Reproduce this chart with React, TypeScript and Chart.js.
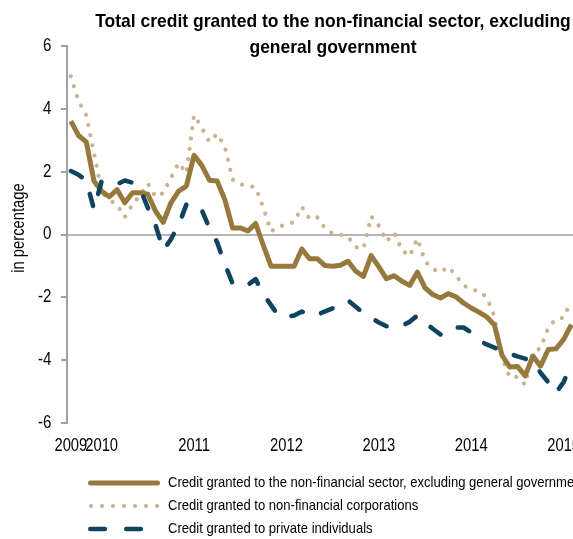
import React, { useEffect, useRef } from "react";
import { Chart, registerables } from "chart.js";

Chart.register(...registerables);

// ---- data ----
const startYear = 2009;
const startMonth = 9; // September 2009
const monthCount = 66; // Sep 2009 .. Feb 2015

const monthLabels: string[] = [];
for (let k = 0; k < monthCount; k++) {
  const m = ((startMonth - 1 + k) % 12) + 1;
  const y = startYear + Math.floor((startMonth - 1 + k) / 12);
  monthLabels.push(`${y}-${String(m).padStart(2, "0")}`);
}

const titleLines = [
  "Total credit granted to the non-financial sector, excluding",
  "general government",
];
const yAxisTitle = "in percentage";

const seriesNames = [
  "Credit granted to the non-financial sector, excluding general government",
  "Credit granted to non-financial corporations",
  "Credit granted to private individuals",
];

const totalCredit = [
  3.61, 3.15, 2.95, 1.7, 1.38, 1.2, 1.43, 1.01, 1.33, 1.33, 1.28, 0.74,
  0.39, 1.01, 1.38, 1.54, 2.52, 2.2, 1.73, 1.7, 1.11, 0.21, 0.21, 0.11,
  0.35, -0.35, -1.01, -1.01, -1.01, -1.01, -0.46, -0.77, -0.77, -0.99, -1.01, -0.98,
  -0.85, -1.17, -1.33, -0.67, -1.03, -1.41, -1.31, -1.49, -1.62, -1.2, -1.7, -1.91,
  -2.02, -1.88, -1.98, -2.18, -2.34, -2.47, -2.62, -2.88, -3.85, -4.22, -4.2, -4.5,
  -3.87, -4.19, -3.66, -3.64, -3.34, -2.87,
];

const corporations = [
  5.04, 4.25, 3.8, 2.6, 1.35, 1.1, 0.95, 0.55, 0.95, 1.25, 1.62, 1.2,
  1.32, 1.8, 2.28, 1.95, 3.8, 3.4, 2.95, 3.2, 2.8, 1.75, 1.6, 1.55,
  1.5, 0.85, 0.1, 0.25, 0.32, 0.4, 0.88, 0.5, 0.55, 0.2, 0.03, 0.0,
  -0.07, -0.4, -0.45, 0.58, 0.28, -0.22, 0.05, -0.5, -0.69, -0.13, -0.85, -1.1,
  -1.2, -1.03, -1.3, -1.62, -1.75, -1.8, -2.0, -2.6, -3.93, -4.55, -4.53, -4.78,
  -3.75, -3.62, -2.97, -2.69, -2.65, -2.1,
];

const privateIndividuals = [
  2.02, 1.9, 1.72, 0.8, 1.7, 1.66, 1.6, 1.72, 1.65, 1.45, 0.85, 0.3,
  -0.5, -0.15, 0.3, 0.95, 0.98, 0.78, 0.2, -0.25, -0.95, -1.55, -1.65, -1.6,
  -1.42, -1.9, -2.25, -2.6, -2.62, -2.58, -2.45, -2.58, -2.55, -2.45, -2.35, -2.2,
  -2.1, -2.3, -2.5, -2.65, -2.8, -2.92, -2.95, -2.9, -2.78, -2.58, -2.8, -3.0,
  -3.18, -2.98, -2.96, -2.96, -3.12, -3.38, -3.5, -3.6, -3.7, -3.8, -3.88, -3.95,
  -4.05, -4.4, -4.7, -5.04, -4.7, -4.1,
];

const yMin = -6;
const yMax = 6;
const yStep = 2;

// ---- styles ----
const FONT = "'Liberation Sans', Arial, sans-serif";
const GOLD = "#98793D";
const TAN = "#C9B390";
const NAVY = "#0E4460";
const AXIS_GRAY = "#A0A0A0";

const CANVAS_W = 700;
const CANVAS_H = 539;

// draw horizontally condensed text (emulates a narrow typeface)
function condensed(
  ctx: CanvasRenderingContext2D,
  text: string,
  x: number,
  y: number,
  font: string,
  sx: number,
  align: CanvasTextAlign,
  baseline: CanvasTextBaseline,
  rotate = 0
) {
  ctx.save();
  ctx.font = font;
  ctx.fillStyle = "#000";
  ctx.textAlign = align;
  ctx.textBaseline = baseline;
  ctx.translate(x, y);
  if (rotate) ctx.rotate(rotate);
  ctx.scale(sx, 1);
  ctx.fillText(text, 0, 0);
  ctx.restore();
}

const overlayPlugin = {
  id: "overlay",
  afterDraw(chart: any) {
    const ctx = chart.ctx as CanvasRenderingContext2D;
    ctx.save();
    // title
    condensed(ctx, titleLines[0], 333, 26.7, `bold 19px ${FONT}`, 0.92, "center", "alphabetic");
    condensed(ctx, titleLines[1], 333, 53.3, `bold 19px ${FONT}`, 0.92, "center", "alphabetic");

    // y axis title
    condensed(ctx, yAxisTitle, 19, 228, `18px ${FONT}`, 0.82, "center", "middle", -Math.PI / 2);

    // y tick labels
    const ys = chart.scales.y;
    ys.ticks.forEach((t: any) => {
      const py = ys.getPixelForValue(t.value);
      condensed(ctx, String(t.value), 51.5, py, `18px ${FONT}`, 0.84, "right", "middle");
    });

    // x tick labels
    const xs = chart.scales.x;
    xs.ticks.forEach((t: any, i: number) => {
      if (t.label === null || t.label === undefined || t.label === "") return;
      const px = xs.getPixelForTick(i);
      condensed(ctx, String(t.label), px, 446.5, `18px ${FONT}`, 0.82, "center", "middle");
    });

    // legend
    const rows = [483, 506, 529];
    const x0 = 88;
    const x1 = 160;
    chart.data.datasets.forEach((ds: any, i: number) => {
      const y = rows[i];
      ctx.save();
      ctx.strokeStyle = ds.borderColor;
      ctx.lineWidth = ds.borderWidth;
      ctx.lineCap = "round";
      if (i === 0) {
        ctx.setLineDash([]);
        ctx.beginPath();
        ctx.moveTo(x0 + 2.5, y);
        ctx.lineTo(x1 - 2.5, y);
        ctx.stroke();
      } else if (i === 1) {
        ctx.setLineDash([0.01, 11]);
        ctx.beginPath();
        ctx.moveTo(x0 + 3, y);
        ctx.lineTo(x1 - 2, y);
        ctx.stroke();
      } else {
        ctx.setLineDash([14.5, 21.5]);
        ctx.beginPath();
        ctx.moveTo(x0 + 2.3, y);
        ctx.lineTo(x1 - 2.3, y);
        ctx.stroke();
      }
      ctx.restore();
      condensed(ctx, ds.label, 168, y, `15px ${FONT}`, 0.87, "left", "middle");
    });
    ctx.restore();
  },
};

export default function App() {
  const ref = useRef<HTMLCanvasElement | null>(null);

  useEffect(() => {
    if (!ref.current) return;
    const chart = new Chart(ref.current, {
      type: "line",
      data: {
        labels: monthLabels,
        datasets: [
          {
            label: seriesNames[0],
            data: totalCredit,
            borderColor: GOLD,
            backgroundColor: GOLD,
            borderWidth: 5,
            borderJoinStyle: "round",
            pointRadius: 0,
            tension: 0,
            order: 2,
          },
          {
            label: seriesNames[1],
            data: corporations,
            borderColor: TAN,
            backgroundColor: TAN,
            borderWidth: 4.2,
            borderDash: [0.01, 10.4],
            borderCapStyle: "round",
            pointRadius: 0,
            tension: 0,
            order: 3,
          },
          {
            label: seriesNames[2],
            data: privateIndividuals,
            borderColor: NAVY,
            backgroundColor: NAVY,
            borderWidth: 4.6,
            borderDash: [12.5, 19.5],
            borderCapStyle: "round",
            borderJoinStyle: "round",
            pointRadius: 0,
            tension: 0,
            order: 1,
          },
        ],
      },
      options: {
        responsive: false,
        maintainAspectRatio: false,
        devicePixelRatio: 1,
        animation: false,
        layout: {
          padding: { top: 46, left: 0, right: CANVAS_W - 575.2, bottom: CANVAS_H - 423 - 40 },
        },
        plugins: {
          legend: { display: false },
          tooltip: { enabled: false },
          title: { display: false },
        },
        scales: {
          x: {
            type: "category",
            offset: true,
            grid: { display: false, drawTicks: false },
            border: { display: false },
            ticks: {
              autoSkip: false,
              maxRotation: 0,
              minRotation: 0,
              padding: 12,
              color: "rgba(0,0,0,0)",
              font: { family: FONT, size: 18 },
              callback: function (_v: any, index: number) {
                const lab = monthLabels[index];
                if (index === 0 || lab.endsWith("-01")) return lab.slice(0, 4);
                return null;
              },
            },
            afterFit: (scale: any) => {
              scale.height = 40;
            },
          },
          y: {
            min: yMin,
            max: yMax,
            ticks: {
              stepSize: yStep,
              padding: 10,
              color: "rgba(0,0,0,0)",
              font: { family: FONT, size: 18 },
            },
            grid: {
              drawOnChartArea: true,
              drawTicks: true,
              tickLength: 6,
              tickWidth: 2,
              tickColor: AXIS_GRAY,
              lineWidth: 2,
              color: (c: any) => (c.tick && c.tick.value === 0 ? "#B5B5B5" : "rgba(0,0,0,0)"),
            },
            border: { display: true, color: AXIS_GRAY, width: 2 },
            title: { display: false },
            afterFit: (scale: any) => {
              scale.width = 67;
            },
          },
        },
      },
      plugins: [overlayPlugin],
    } as any);
    return () => chart.destroy();
  }, []);

  return (
    <div
      style={{
        position: "fixed",
        left: 0,
        top: 0,
        width: 573,
        height: 539,
        overflow: "hidden",
        background: "#fff",
      }}
    >
      <canvas
        ref={ref}
        width={CANVAS_W}
        height={CANVAS_H}
        style={{ display: "block", width: CANVAS_W, height: CANVAS_H }}
      />
    </div>
  );
}
